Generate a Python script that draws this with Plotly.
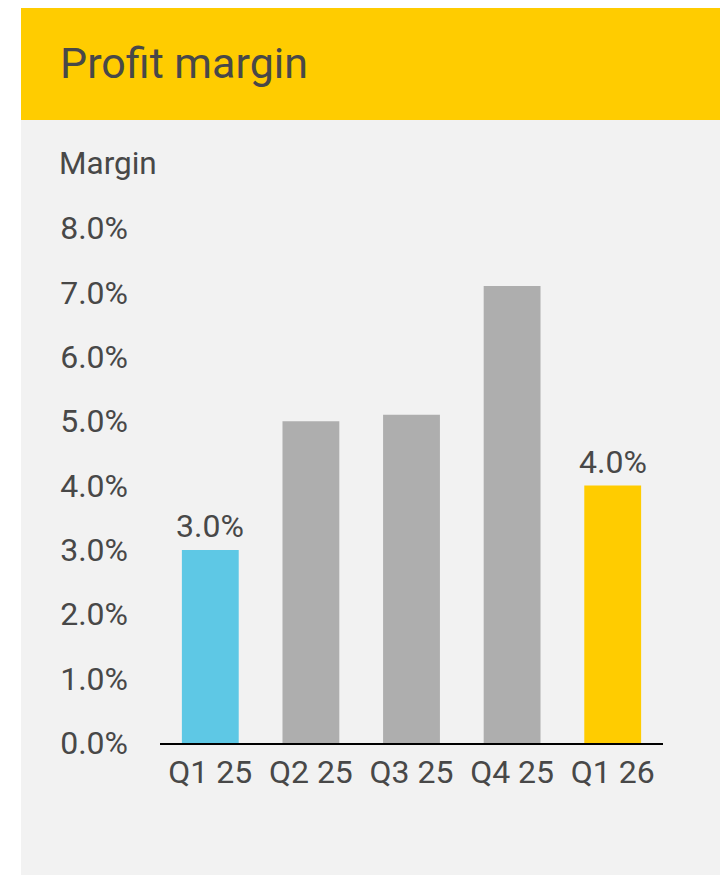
import plotly.graph_objects as go

categories = ["Q1 25", "Q2 25", "Q3 25", "Q4 25", "Q1 26"]
margin_pct = [3.0, 5.0, 5.1, 7.1, 4.0]
bar_colors = ["#5EC8E5", "#AEAEAE", "#AEAEAE", "#AEAEAE", "#FFCC00"]
show_label = [True, False, False, False, True]
y_ticks = [0, 1, 2, 3, 4, 5, 6, 7, 8]
y_tick_text = ["0.0%", "1.0%", "2.0%", "3.0%", "4.0%", "5.0%", "6.0%", "7.0%", "8.0%"]

OFF = 8  # page body margin
W, H = 720, 867
FONT = "Roboto"
TXT = "#484848"

def px(x):
    return (x - OFF) / W

def py(y):
    return (H - (y - OFF)) / H

fig = go.Figure()
fig.add_trace(go.Bar(
    x=categories, y=margin_pct,
    marker=dict(color=bar_colors, line=dict(width=0)),
    width=0.565,
    hoverinfo="skip",
))

annotations = [
    dict(text="Profit margin", x=px(58), y=py(63), xref="paper", yref="paper",
         xanchor="left", yanchor="middle", showarrow=False,
         font=dict(family=FONT, size=43, color=TXT)),
    dict(text="Margin", x=px(57), y=py(163), xref="paper", yref="paper",
         xanchor="left", yanchor="middle", showarrow=False,
         font=dict(family=FONT, size=31.5, color=TXT)),
]
for c, v, s in zip(categories, margin_pct, show_label):
    if s:
        annotations.append(dict(
            text=f"{v:.1f}%", x=c, y=v, xref="x", yref="y",
            xanchor="center", yanchor="bottom", showarrow=False, yshift=3,
            font=dict(family=FONT, size=32, color=TXT)))

shapes = [
    dict(type="rect", xref="paper", yref="paper", x0=px(21), x1=px(724),
         y0=0, y1=py(120), fillcolor="#F2F2F2", line=dict(width=0), layer="below"),
    dict(type="rect", xref="paper", yref="paper", x0=px(21), x1=px(724),
         y0=py(120), y1=py(6), fillcolor="#FFCC00", line=dict(width=0), layer="below"),
]

fig.update_layout(
    width=W, height=H,
    margin=dict(l=0, r=0, t=0, b=0, autoexpand=False),
    paper_bgcolor="white",
    plot_bgcolor="rgba(0,0,0,0)",
    showlegend=False,
    annotations=annotations,
    shapes=shapes,
    font=dict(family=FONT, color=TXT),
    xaxis=dict(
        domain=[px(160), px(663)],
        showline=True, linecolor="black", linewidth=2,
        showgrid=False, zeroline=False, ticks="",
        tickfont=dict(family=FONT, size=32, color=TXT),
        ticklabelstandoff=0,
        fixedrange=True,
    ),
    yaxis=dict(
        domain=[py(743), py(228)],
        range=[0, 8],
        tickvals=y_ticks, ticktext=y_tick_text,
        showline=False, showgrid=False, zeroline=False, ticks="",
        tickfont=dict(family=FONT, size=32, color=TXT),
        ticklabelstandoff=31,
        fixedrange=True,
    ),
)

fig.write_html("out.html")
